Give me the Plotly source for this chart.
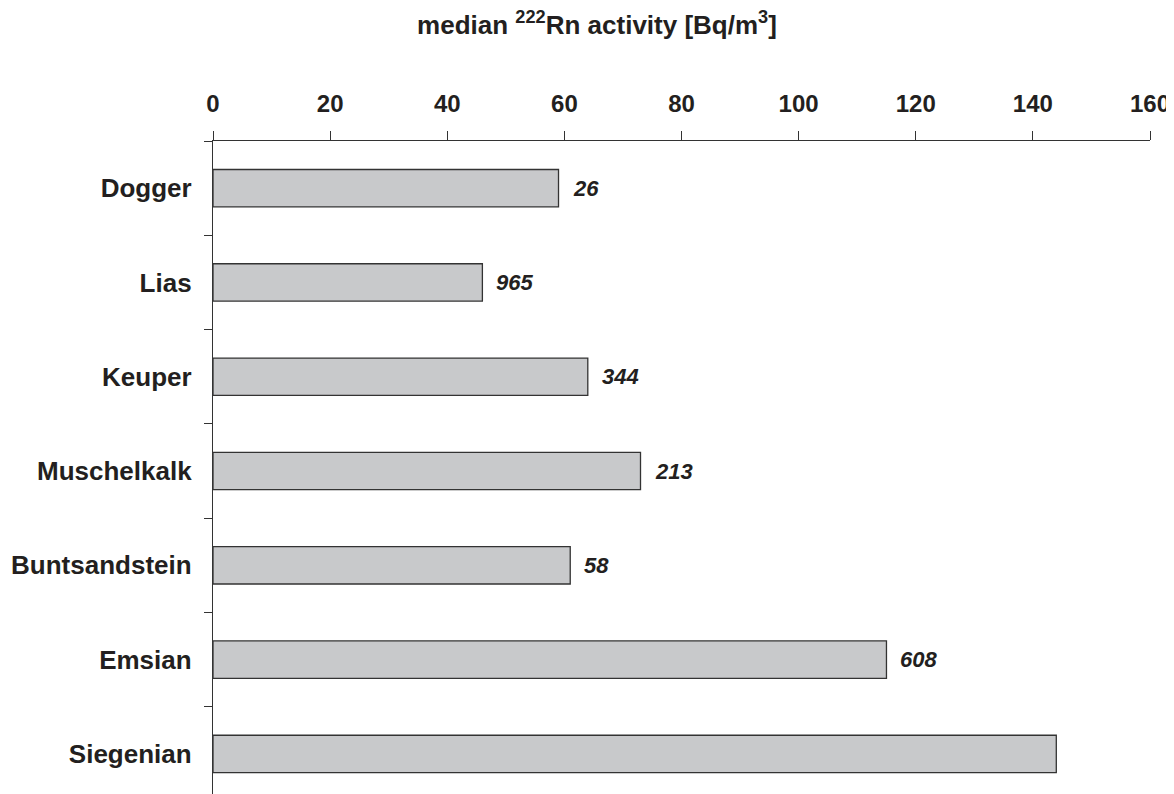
import plotly.graph_objects as go

categories = ["Dogger", "Lias", "Keuper", "Muschelkalk", "Buntsandstein", "Emsian", "Siegenian"]
median_activity = [59, 46, 64, 73, 61, 115, 144]
sample_counts = ["26", "965", "344", "213", "58", "608", ""]
x_ticks = [0, 20, 40, 60, 80, 100, 120, 140, 160]

FONT = "Liberation Sans, Arial, Helvetica, sans-serif"

fig = go.Figure()
fig.add_trace(go.Bar(
    y=categories,
    x=median_activity,
    orientation="h",
    marker=dict(color="#c8c9cb", line=dict(color="#333333", width=1.3)),
    hoverinfo="x+y",
))

annotations = []
for cat, val, lab in zip(categories, median_activity, sample_counts):
    if lab:
        annotations.append(dict(
            x=val, y=cat, xref="x", yref="y", text=lab, showarrow=False,
            xanchor="left", yanchor="middle", xshift=12,
            font=dict(family=FONT, size=22, color="#231f20", style="italic", weight="bold"),
        ))

W, H = 1166, 786

fig.update_layout(
    width=W, height=H,
    margin=dict(l=205, r=24, t=133, b=0, pad=0),
    paper_bgcolor="white", plot_bgcolor="white",
    bargap=0.604,
    showlegend=False,
    annotations=annotations,
    title=dict(
        text="median <sup>222</sup>Rn activity [Bq/m<sup>3</sup>]",
        x=589 / W, xanchor="center", xref="container",
        y=1 - 17 / H, yanchor="middle", yref="container",
        font=dict(family=FONT, size=26, color="#231f20", weight="bold"),
    ),
    xaxis=dict(
        side="top", range=[0, 160], tickvals=x_ticks,
        ticks="outside", ticklen=9, tickwidth=1, tickcolor="#333333",
        showline=True, linecolor="#333333", linewidth=1.3,
        showgrid=False, zeroline=False,
        tickfont=dict(family=FONT, size=24, color="#231f20", weight="bold"),
        ticklabelstandoff=9,
        ticklabeloverflow="allow",
        fixedrange=True,
    ),
    yaxis=dict(
        categoryorder="array", categoryarray=categories,
        range=[6.425, -0.5],
        ticks="outside", ticklen=8, tickwidth=1, tickcolor="#333333",
        tickson="boundaries",
        showline=True, linecolor="#333333", linewidth=1.3,
        showgrid=False, zeroline=False,
        tickfont=dict(family=FONT, size=26, color="#231f20", weight="bold"),
        ticklabelstandoff=15,
        fixedrange=True,
    ),
)

fig.write_html("out.html")
